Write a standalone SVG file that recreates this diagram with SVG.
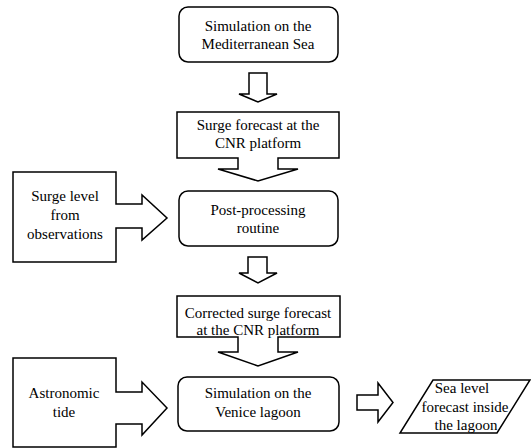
<svg xmlns="http://www.w3.org/2000/svg" width="531" height="448" viewBox="0 0 531 448">
  <style>
    .shape { fill: #ffffff; stroke: #000000; stroke-width: 1.5; stroke-linejoin: miter; }
    text { font-family: 'Liberation Serif', 'Times New Roman', serif; font-size: 15px; fill: #000000; text-anchor: middle; }
  </style>
  <rect width="531" height="448" fill="#ffffff"/>

  <!-- connectors: block arrows between stages -->
  <g id="connectors">
    <path class="shape" d="M249,73 H267 V94 H277 L258,102 L239,94 H249 Z"/>
    <path class="shape" d="M248,257 H267 V273 H277 L258,283 L239,273 H248 Z"/>
    <path class="shape" d="M357,395 H378 V383 L393,402.5 L378,422 V410 H357 Z"/>
  </g>

  <g id="med-sim">
    <rect class="shape" x="179" y="7" width="159" height="55" rx="9" ry="9"/>
    <text x="258" y="31">Simulation on the</text>
    <text x="258" y="49">Mediterranean Sea</text>
  </g>

  <g id="surge-forecast">
    <path class="shape" d="M177,112 H339 V158 H278 V169 H298 L258,181 L218,169 H238 V158 H177 Z"/>
    <text x="258" y="130">Surge forecast at the</text>
    <text x="258" y="148">CNR platform</text>
  </g>

  <g id="post-processing">
    <rect class="shape" x="179" y="191" width="159" height="55" rx="9" ry="9"/>
    <text x="258" y="215">Post-processing</text>
    <text x="258" y="233">routine</text>
  </g>

  <g id="observations">
    <path class="shape" d="M13,172 H116 V204 H142 V195 L167,218 L142,240 V228 H116 V262 H13 Z"/>
    <text x="65" y="201">Surge level</text>
    <text x="65" y="220">from</text>
    <text x="65" y="239">observations</text>
  </g>

  <g id="corrected-forecast">
    <path class="shape" d="M177,296 H340 V337 H278 V352 H298 L258,366 L218,352 H238 V337 H177 Z"/>
    <text x="258" y="318">Corrected surge forecast</text>
    <text x="258" y="335">at the CNR platform</text>
  </g>

  <g id="astronomic-tide">
    <path class="shape" d="M13,358 H116 V392 H142 V382 L167,408 L142,435 V424 H116 V447 H13 Z"/>
    <text x="64" y="398">Astronomic</text>
    <text x="64" y="417">tide</text>
  </g>

  <g id="lagoon-sim">
    <rect class="shape" x="178" y="377" width="161" height="54" rx="9" ry="9"/>
    <text x="258" y="398">Simulation on the</text>
    <text x="258" y="417">Venice lagoon</text>
  </g>

  <g id="sea-level-output">
    <path class="shape" d="M433,380 H530 L497,433 H400 Z"/>
    <text x="462" y="393">Sea level</text>
    <text x="465" y="412">forecast inside</text>
    <text x="466" y="430">the lagoon</text>
  </g>
</svg>
